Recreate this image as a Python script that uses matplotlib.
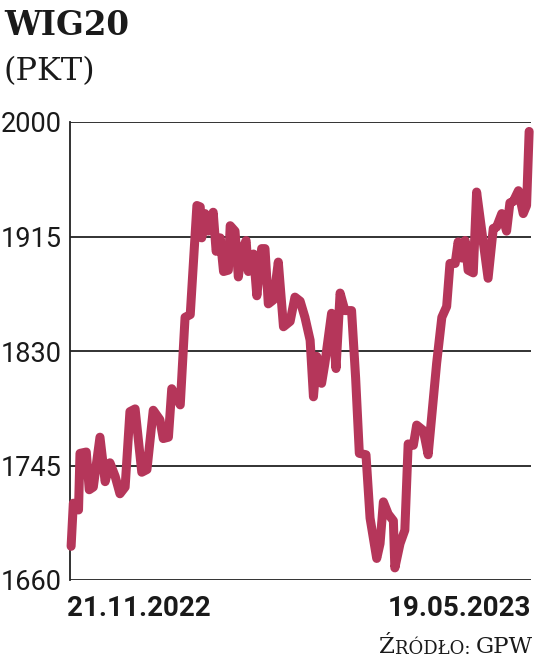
import numpy as np
import matplotlib
matplotlib.use("Agg")
import matplotlib.pyplot as plt

# session index (0 = 21.11.2022, ~124 = 19.05.2023) and WIG20 close
days = [0.0, 0.6, 2.0, 2.4, 4.1, 4.9, 6.0, 7.8, 9.2, 10.5, 11.9, 13.2, 14.6, 15.9, 17.3,
        19.1, 20.5, 22.2, 24.0, 24.9, 26.3, 27.2, 29.5, 30.8, 32.2, 34.0, 34.9, 35.3, 36.2,
        37.1, 38.4, 39.2, 40.3, 41.2, 42.5, 43.0, 44.3, 45.2, 46.1, 47.3, 47.9, 49.3, 50.2,
        51.5, 52.4, 53.3, 54.7, 56.0, 57.4, 59.2, 60.5, 61.9, 63.2, 64.6, 65.5, 66.4, 67.7,
        68.6, 70.4, 71.6, 72.7, 74.0, 75.8, 76.9, 77.9, 79.7, 80.8, 82.6, 83.5, 84.4, 85.7,
        87.1, 87.5, 88.9, 90.2, 91.1, 92.5, 93.4, 95.2, 96.5, 98.8, 100.2, 101.5, 102.4,
        103.8, 104.6, 105.6, 106.5, 107.3, 108.7, 109.6, 110.9, 112.7, 114.1, 115.0, 116.4,
        117.7, 118.6, 119.5, 120.9, 122.2, 123.1, 123.8]
wig20 = [1685, 1717, 1712, 1754, 1755, 1727, 1729, 1766, 1733, 1747, 1737, 1724, 1729, 1785, 1787,
         1740, 1742, 1786, 1779, 1765, 1766, 1802, 1790, 1855, 1857, 1938, 1937, 1914, 1932,
         1919, 1933, 1904, 1914, 1889, 1890, 1923, 1919, 1885, 1904, 1912, 1889, 1902, 1871,
         1906, 1906, 1865, 1868, 1896, 1848, 1852, 1870, 1867, 1855, 1838, 1796, 1826, 1806,
         1821, 1858, 1817, 1873, 1860, 1860, 1810, 1754, 1753, 1706, 1676, 1687, 1718, 1709,
         1704, 1669, 1687, 1697, 1761, 1760, 1775, 1771, 1753, 1821, 1855, 1863, 1895,
         1895, 1911, 1899, 1912, 1890, 1888, 1948, 1921, 1884, 1921, 1922, 1932,
         1919, 1940, 1941, 1949, 1932, 1938, 1993]
yticks = [1660, 1745, 1830, 1915, 2000]
date_first = "21.11.2022"
date_last = "19.05.2023"

W, H = 536, 667
ink = "#1a1a1a"
fig = plt.figure(figsize=(W / 100, H / 100), dpi=100)
ax = fig.add_axes([70 / W, 1 - 580 / H, 461 / W, 458 / H])

for v in yticks:
    ax.axhline(v, color="#222222", lw=1.3, zorder=1)
ax.plot(days, wig20, color="#b5365a", lw=6.5, solid_joinstyle="round",
        solid_capstyle="round", zorder=3, clip_on=False)

ax.set_xlim(-0.3, 124.3)
ax.set_ylim(1660, 2000)
for s in ["top", "right", "bottom"]:
    ax.spines[s].set_visible(False)
ax.spines["left"].set_linewidth(1.3)
ax.spines["left"].set_color("#222222")
ax.set_xticks([])
ax.set_yticks(yticks)
ax.set_yticklabels([str(v) for v in yticks], family="Roboto", fontsize=19.5, color=ink)
ax.tick_params(axis="y", length=0, pad=6)

fig.text(67 / W, 1 - 616 / H, date_first, family="Roboto", fontsize=20,
         fontweight="bold", color=ink, ha="left", va="baseline")
fig.text(531 / W, 1 - 616 / H, date_last, family="Roboto", fontsize=20,
         fontweight="bold", color=ink, ha="right", va="baseline")

fig.text(4 / W, 1 - 35 / H, "WIG20", family="DejaVu Serif", fontweight="bold",
         fontsize=23.5, color=ink, ha="left", va="baseline")
fig.text(3 / W, 1 - 80 / H, "(PKT)", family="DejaVu Serif", fontsize=23,
         color=ink, ha="left", va="baseline")

# source line in small caps
t1 = fig.text(533 / W, 1 - 653 / H, "GPW", family="DejaVu Serif", fontsize=16.5,
              color=ink, ha="right", va="baseline")
t2 = ax.annotate("RÓDŁO: ", xy=(0, 0), xycoords=t1, ha="right", va="bottom",
                 family="DejaVu Serif", fontsize=13, color=ink)
ax.annotate("Ź", xy=(0, 0), xycoords=t2, ha="right", va="bottom",
            family="DejaVu Serif", fontsize=16.5, color=ink)

fig.savefig("out.png", dpi=100)
